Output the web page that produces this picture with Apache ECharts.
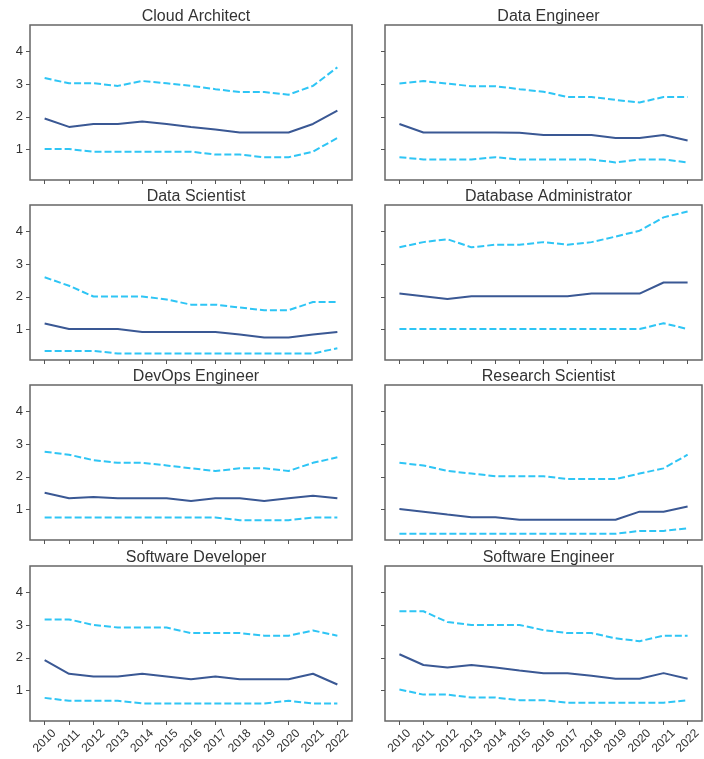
<!DOCTYPE html>
<html>
<head>
<meta charset="utf-8">
<script src="https://cdn.jsdelivr.net/npm/echarts@6/dist/echarts.min.js"></script>
<style>
html,body{margin:0;padding:0;background:#fff;}
#chart{width:704px;height:759px;}
</style>
</head>
<body>
<div id="chart"></div>
<script>
const years = [2010,2011,2012,2013,2014,2015,2016,2017,2018,2019,2020,2021,2022];
const yTicks = [1,2,3,4];
const titles = ["Cloud Architect","Data Engineer","Data Scientist","Database Administrator","DevOps Engineer","Research Scientist","Software Developer","Software Engineer"];

const cloudUpper = [3.19,3.03,3.03,2.95,3.10,3.03,2.95,2.85,2.76,2.76,2.68,2.95,3.52];
const cloudMean  = [1.95,1.69,1.78,1.78,1.86,1.78,1.69,1.61,1.52,1.52,1.52,1.78,2.19];
const cloudLower = [1.01,1.01,0.93,0.93,0.93,0.93,0.93,0.84,0.84,0.76,0.76,0.93,1.35];

const deUpper = [3.02,3.10,3.02,2.94,2.94,2.85,2.77,2.61,2.61,2.52,2.44,2.61,2.61];
const deMean  = [1.78,1.52,1.52,1.52,1.52,1.51,1.44,1.44,1.44,1.35,1.35,1.44,1.27];
const deLower = [0.76,0.69,0.69,0.69,0.76,0.69,0.69,0.69,0.69,0.60,0.69,0.69,0.60];

const dsUpper = [2.60,2.34,2.01,2.01,2.01,1.92,1.76,1.76,1.67,1.59,1.59,1.84,1.84];
const dsMean  = [1.18,1.01,1.01,1.01,0.92,0.92,0.92,0.92,0.84,0.75,0.75,0.84,0.92];
const dsLower = [0.34,0.34,0.34,0.26,0.26,0.26,0.26,0.26,0.26,0.26,0.26,0.26,0.42];

const dbaUpper = [3.52,3.68,3.77,3.52,3.60,3.60,3.68,3.60,3.68,3.85,4.03,4.44,4.62];
const dbaMean  = [2.10,2.02,1.93,2.02,2.02,2.02,2.02,2.02,2.10,2.10,2.10,2.44,2.44];
const dbaLower = [1.01,1.01,1.01,1.01,1.01,1.01,1.01,1.01,1.01,1.01,1.01,1.19,1.01];

const devUpper = [2.77,2.68,2.51,2.43,2.43,2.35,2.26,2.18,2.26,2.26,2.18,2.43,2.60];
const devMean  = [1.51,1.34,1.38,1.34,1.34,1.34,1.26,1.34,1.34,1.26,1.34,1.42,1.34];
const devLower = [0.75,0.75,0.75,0.75,0.75,0.75,0.75,0.75,0.67,0.67,0.67,0.75,0.75];

const rsUpper = [2.43,2.35,2.18,2.10,2.02,2.02,2.02,1.93,1.93,1.93,2.10,2.26,2.68];
const rsMean  = [1.01,0.93,0.84,0.76,0.76,0.68,0.68,0.68,0.68,0.68,0.93,0.93,1.09];
const rsLower = [0.25,0.25,0.25,0.25,0.25,0.25,0.25,0.25,0.25,0.25,0.34,0.34,0.42];

const sdUpper = [3.18,3.18,3.01,2.93,2.93,2.93,2.76,2.76,2.76,2.68,2.68,2.84,2.68];
const sdMean  = [1.93,1.51,1.43,1.43,1.51,1.43,1.34,1.43,1.34,1.34,1.34,1.51,1.18];
const sdLower = [0.77,0.68,0.68,0.68,0.60,0.60,0.60,0.60,0.60,0.60,0.68,0.60,0.60];

const seUpper = [3.43,3.43,3.10,3.01,3.01,3.01,2.85,2.76,2.76,2.60,2.51,2.68,2.68];
const seMean  = [2.11,1.78,1.70,1.78,1.70,1.61,1.53,1.53,1.45,1.36,1.36,1.53,1.36];
const seLower = [1.03,0.87,0.87,0.78,0.78,0.70,0.70,0.62,0.62,0.62,0.62,0.62,0.70];

const panels = [
  [cloudUpper, cloudMean, cloudLower],
  [deUpper, deMean, deLower],
  [dsUpper, dsMean, dsLower],
  [dbaUpper, dbaMean, dbaLower],
  [devUpper, devMean, devLower],
  [rsUpper, rsMean, rsLower],
  [sdUpper, sdMean, sdLower],
  [seUpper, seMean, seLower]
];

const FONT = "Liberation Sans, Arial, sans-serif";
const colLeft = [30, 385];
const colWidth = [322, 317];
const rowTop = [25, 205, 385, 566];
const gridH = 155;

const chart = echarts.init(document.getElementById('chart'), null, {renderer:'canvas'});
const grids = [], xAxes = [], yAxes = [], series = [], titleArr = [];
const pair = arr => arr.map((v,i)=>[years[i], v]);

panels.forEach((p, k) => {
  const col = k % 2, row = Math.floor(k / 2);
  grids.push({left: colLeft[col], top: rowTop[row], width: colWidth[col], height: gridH,
    show: true, borderColor: '#666', borderWidth: 1.5, backgroundColor: '#fff', containLabel: false});
  titleArr.push({text: titles[k], left: colLeft[col] + colWidth[col]/2, top: rowTop[row] - 21,
    textAlign: 'center',
    textStyle: {fontFamily: FONT, fontSize: 16, fontWeight: 'normal', color: '#333'}});
  xAxes.push({type: 'value', gridIndex: k, min: 2009.4, max: 2022.6,
    axisLine: {show: false},
    splitLine: {show: false},
    axisTick: {show: true, inside: false, length: 4, customValues: years, lineStyle: {color: '#555', width: 1}},
    axisLabel: {show: row === 3, customValues: years, rotate: 45, align: 'center', verticalAlign: 'middle',
      fontFamily: FONT, fontSize: 12, color: '#333', margin: 20,
      formatter: v => String(v)}});
  yAxes.push({type: 'value', gridIndex: k, min: 0.06, max: 4.82,
    axisLine: {show: false},
    splitLine: {show: false},
    axisTick: {show: true, inside: false, length: 4, customValues: yTicks, lineStyle: {color: '#555', width: 1}},
    axisLabel: {show: col === 0, customValues: yTicks, fontFamily: FONT, fontSize: 13, color: '#333', margin: 7}});
  const [up, mean, low] = p;
  series.push({type: 'line', xAxisIndex: k, yAxisIndex: k, data: pair(up), showSymbol: false, silent: true,
    lineStyle: {color: '#2ec5f5', width: 2, type: [7, 3]}});
  series.push({type: 'line', xAxisIndex: k, yAxisIndex: k, data: pair(mean), showSymbol: false, silent: true,
    lineStyle: {color: '#3a5894', width: 2}});
  series.push({type: 'line', xAxisIndex: k, yAxisIndex: k, data: pair(low), showSymbol: false, silent: true,
    lineStyle: {color: '#2ec5f5', width: 2, type: [7, 3]}});
});

chart.setOption({
  animation: false,
  backgroundColor: '#fff',
  title: titleArr,
  grid: grids,
  xAxis: xAxes,
  yAxis: yAxes,
  series: series
});
</script>
</body>
</html>
